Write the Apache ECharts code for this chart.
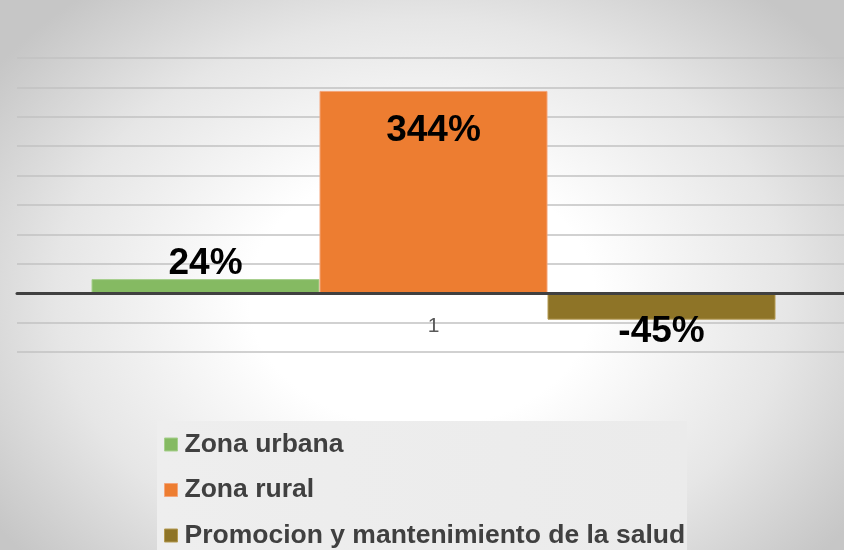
<!DOCTYPE html>
<html>
<head>
<meta charset="utf-8">
<script src="https://cdn.jsdelivr.net/npm/echarts@6/dist/echarts.min.js"></script>
<style>
html,body{margin:0;padding:0;}
#chart{width:844px;height:550px;background:radial-gradient(ellipse 62% 72% at 50% 54%, #ffffff 0%, #ffffff 33%, #e6e6e6 70%, #c6c6c6 100%);}
</style>
</head>
<body>
<div id="chart"></div>
<script>
var categories = ['1'];
var seriesNames = ['Zona urbana', 'Zona rural', 'Promocion y mantenimiento de la salud'];
var urbanValues = [24];
var ruralValues = [344];
var promoValues = [-45];
var seriesColors = ['#85ba62', '#ed7d31', '#8e7427'];
var borderColors = ['#a6cf8c', '#f4a57a', '#b49a52'];

var chart = echarts.init(document.getElementById('chart'));
var labelStyle = {
  show: true,
  fontFamily: 'Liberation Sans, Arial, sans-serif',
  fontWeight: 'bold',
  fontSize: 37,
  color: '#000000',
  formatter: function (p) { return p.value + '%'; }
};
var valueSets = [urbanValues, ruralValues, promoValues];
var labelPos = [
  { position: 'top', distance: -3 },
  { position: 'insideTop', distance: 21 },
  { position: 'bottom', distance: -6 }
];
var series = seriesNames.map(function (name, i) {
  return {
    name: name,
    type: 'bar',
    xAxisIndex: 1,
    yAxisIndex: 1,
    data: valueSets[i],
    barWidth: 228,
    barGap: '0%',
    itemStyle: { color: seriesColors[i], borderColor: borderColors[i], borderWidth: 1 },
    label: Object.assign({}, labelStyle, labelPos[i])
  };
});

var yMin = -100, yMax = 400, yStep = 50;

chart.setOption({
  animation: false,
  textStyle: { fontFamily: 'Liberation Sans, Arial, sans-serif' },
  graphic: [{
    type: 'rect',
    z: -10,
    shape: { x: 157, y: 421, width: 530, height: 140 },
    style: {
      fill: {
        type: 'linear', x: 0, y: 0, x2: 1, y2: 0,
        colorStops: [{ offset: 0, color: '#eeeeee' }, { offset: 1, color: '#ebebeb' }]
      }
    }
  }],
  grid: [
    { left: 17, right: 0, top: 58, bottom: 198, containLabel: false },
    { left: 23, right: 0, top: 58, bottom: 198, containLabel: false }
  ],
  legend: {
    orient: 'vertical',
    left: 164,
    top: 431,
    height: 400,
    padding: 0,
    itemWidth: 13,
    itemHeight: 13,
    itemGap: 18.5,
    icon: 'rect',
    data: seriesNames.map(function (n, i) {
      return { name: n, itemStyle: { color: seriesColors[i], borderColor: borderColors[i], borderWidth: 1 } };
    }),
    textStyle: {
      fontFamily: 'Liberation Sans, Arial, sans-serif',
      fontWeight: 'bold',
      fontSize: 26.5,
      color: '#404040',
      padding: [0, 0, 0, 2]
    }
  },
  xAxis: [
    {
      type: 'category',
      gridIndex: 0,
      data: categories,
      axisTick: { show: false },
      axisLabel: { show: false },
      axisLine: { onZero: true, lineStyle: { color: '#404040', width: 3 } },
      z: 5
    },
    {
      type: 'category',
      gridIndex: 1,
      data: categories,
      axisTick: { show: false },
      axisLine: { show: false },
      axisLabel: { fontSize: 21, color: '#595959', margin: -36, fontFamily: 'Liberation Sans, Arial, sans-serif' }
    }
  ],
  yAxis: [
    {
      type: 'value',
      gridIndex: 0,
      min: yMin,
      max: yMax,
      interval: yStep,
      axisLabel: { show: false },
      axisLine: { show: false },
      axisTick: { show: false },
      splitLine: { lineStyle: { color: '#c2c2c2', width: 1.5 } }
    },
    {
      type: 'value',
      gridIndex: 1,
      min: yMin,
      max: yMax,
      interval: yStep,
      axisLabel: { show: false },
      axisLine: { show: false },
      axisTick: { show: false },
      splitLine: { show: false }
    }
  ],
  series: series
});
</script>
</body>
</html>
